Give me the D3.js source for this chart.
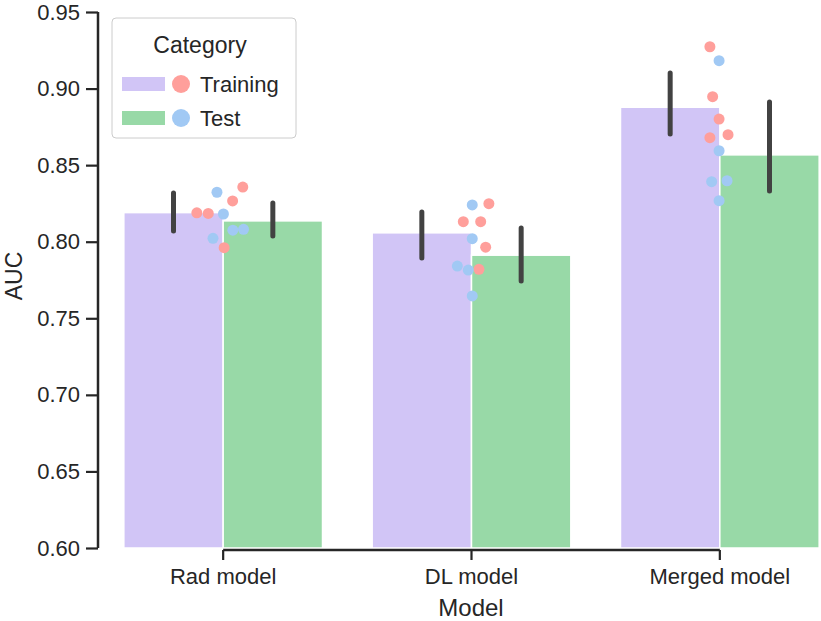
<!DOCTYPE html>
<html><head><meta charset="utf-8">
<script src="https://cdn.jsdelivr.net/npm/d3@7"></script>
<style>
body{margin:0;background:#fff}
svg{display:block}
text{font-family:"Liberation Sans",Arial,Helvetica,sans-serif;fill:#262626}
</style>
</head><body>
<svg id="c" width="821" height="621"></svg>
<script>
// ---------- data ----------
const models = ["Rad model", "DL model", "Merged model"];
const categories = ["Training", "Test"];
const meanTraining = [0.8190, 0.8058, 0.8878];
const meanTest = [0.8136, 0.7912, 0.8567];
const ciLowTraining = [0.8070, 0.7894, 0.8703];
const ciHighTraining = [0.8318, 0.8194, 0.9102];
const ciLowTest = [0.8037, 0.7743, 0.8331];
const ciHighTest = [0.8253, 0.8090, 0.8912];
const foldTraining = [
  [0.8357, 0.8266, 0.8189, 0.8185, 0.7961],
  [0.8248, 0.8131, 0.8131, 0.7964, 0.7820],
  [0.9273, 0.8947, 0.8801, 0.8699, 0.8679]
];
const foldTest = [
  [0.8323, 0.8181, 0.8022, 0.8075, 0.8081],
  [0.8240, 0.8020, 0.7841, 0.7815, 0.7646],
  [0.9182, 0.8594, 0.8392, 0.8398, 0.8268]
];
// strip-plot jitter, in category units
const jitterTraining = [
  [0.079, 0.038, -0.106, -0.060, 0.004],
  [0.070, -0.033, 0.037, 0.057, 0.030],
  [-0.040, -0.029, -0.003, 0.033, -0.040]
];
const jitterTest = [
  [-0.025, 0.001, -0.041, 0.039, 0.082],
  [0.003, 0.003, -0.057, -0.013, 0.003],
  [-0.003, -0.003, -0.033, 0.029, -0.003]
];
const yTicks = [0.60, 0.65, 0.70, 0.75, 0.80, 0.85, 0.90, 0.95];
const barColors = {Training: "#d1c5f6", Test: "#98d9a7"};
const dotColors = {Training: "#ff9f9b", Test: "#a1c9f4"};

// ---------- build ----------
const svg = d3.select("#c");
const x = d3.scaleBand().domain(models).range([99, 844]).paddingInner(0).paddingOuter(0);
const y = d3.scaleLinear().domain([0.60, 0.95]).range([548, 12]);
const hue = d3.scaleBand().domain(categories).range([-0.4, 0.4]);

const barData = [];
models.forEach((m, i) => {
  barData.push({m, c: "Training", v: meanTraining[i], lo: ciLowTraining[i], hi: ciHighTraining[i]});
  barData.push({m, c: "Test", v: meanTest[i], lo: ciLowTest[i], hi: ciHighTest[i]});
});
const cx = d => x(d.m) + x.bandwidth() / 2;
const bx = d => cx(d) + hue(d.c) * x.step();
const bw = hue.bandwidth() * x.step();

svg.append("g").selectAll("rect").data(barData).join("rect")
  .attr("x", d => bx(d)).attr("width", bw)
  .attr("y", d => y(d.v)).attr("height", d => y(0.60) - y(d.v))
  .attr("fill", d => barColors[d.c])
  .attr("stroke", "#fff").attr("stroke-width", 1.5);

svg.append("g").selectAll("line").data(barData).join("line")
  .attr("x1", d => bx(d) + bw / 2).attr("x2", d => bx(d) + bw / 2)
  .attr("y1", d => y(d.lo)).attr("y2", d => y(d.hi))
  .attr("stroke", "#424242").attr("stroke-width", 5).attr("stroke-linecap", "round");

const pts = [];
models.forEach((m, i) => {
  foldTraining[i].forEach((v, k) => pts.push({m, c: "Training", v, j: jitterTraining[i][k]}));
  foldTest[i].forEach((v, k) => pts.push({m, c: "Test", v, j: jitterTest[i][k]}));
});
svg.append("g").selectAll("circle").data(pts).join("circle")
  .attr("cx", d => cx(d) + d.j * x.step())
  .attr("cy", d => y(d.v))
  .attr("r", 5.5)
  .attr("fill", d => dotColors[d.c]);

// y axis
const yAxis = d3.axisLeft(y).tickValues(yTicks).tickFormat(d3.format(".2f")).tickSize(12).tickPadding(6);
const gy = svg.append("g").attr("transform", "translate(98,0)").call(yAxis);
gy.select(".domain").attr("stroke", "#262626").attr("stroke-width", 2.5).attr("d", `M0,${y(0.60)}V${y(0.95)}`);
gy.selectAll(".tick line").attr("stroke", "#262626").attr("stroke-width", 2.2);
gy.selectAll(".tick text").attr("font-size", 22).attr("fill", "#262626").style("font-family", '"Liberation Sans",Arial,sans-serif');

// x axis
const xAxis = d3.axisBottom(x).tickSize(10).tickPadding(8);
const gx = svg.append("g").attr("transform", "translate(0,550)").call(xAxis);
gx.select(".domain").attr("stroke", "#262626").attr("stroke-width", 2.5)
  .attr("d", `M${x(models[0]) + x.bandwidth()/2},0H${x(models[2]) + x.bandwidth()/2}`);
gx.selectAll(".tick line").attr("stroke", "#262626").attr("stroke-width", 2.2);
gx.selectAll(".tick text").attr("font-size", 22).attr("fill", "#262626").style("font-family", '"Liberation Sans",Arial,sans-serif');

// axis labels
svg.append("text").attr("x", 471).attr("y", 616).attr("text-anchor", "middle").attr("font-size", 24).text("Model");
svg.append("text").attr("transform", "translate(22,276) rotate(-90)").attr("text-anchor", "middle").attr("font-size", 23).text("AUC");

// legend
const lg = svg.append("g");
lg.append("rect").attr("x", 112).attr("y", 18).attr("width", 184).attr("height", 120).attr("rx", 4)
  .attr("fill", "#fff").attr("fill-opacity", 0.8).attr("stroke", "#cccccc").attr("stroke-width", 1);
lg.append("text").attr("x", 200).attr("y", 53).attr("text-anchor", "middle").attr("font-size", 23).text("Category");
categories.forEach((c, i) => {
  const yy = 84 + i * 34;
  lg.append("rect").attr("x", 122).attr("y", yy - 7).attr("width", 43).attr("height", 14).attr("fill", barColors[c]);
  lg.append("circle").attr("cx", 181).attr("cy", yy).attr("r", 9).attr("fill", dotColors[c]);
  lg.append("text").attr("x", 200).attr("y", yy + 8).attr("font-size", 22).text(c);
});
</script>
</body></html>
